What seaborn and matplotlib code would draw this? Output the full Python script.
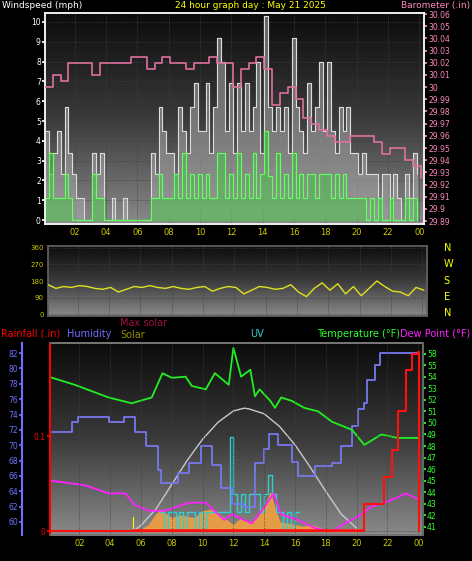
import numpy as np
import pandas as pd
import matplotlib
matplotlib.use("Agg")
import matplotlib.pyplot as plt
import seaborn as sns
from matplotlib.colors import LinearSegmentedColormap

# ---- data ----
hours_q = np.arange(0, 24, 0.25) + 0.1
gust = [4.5, 2.3, 3.4, 4.5, 2.3, 5.7, 3.4, 2.3, 1.1, 1.1, 0, 0, 3.4, 2.3, 3.4, 0,
        0, 1.1, 0, 0, 1.1, 0, 0, 0, 0, 0, 0, 3.4, 2.3, 5.7, 4.5, 3.4,
        3.4, 2.3, 5.7, 4.5, 3.4, 5.7, 6.9, 4.5, 4.5, 6.9, 3.4, 5.7, 9.2, 8.0, 4.5, 6.9,
        3.4, 6.9, 4.5, 6.9, 4.5, 5.7, 8.0, 3.4, 10.3, 5.7, 4.5, 5.7, 4.5, 5.7, 3.4, 9.2,
        5.7, 4.5, 3.4, 6.9, 4.5, 5.7, 8.0, 4.5, 8.0, 4.5, 3.4, 5.7, 4.5, 5.7, 3.4, 3.4,
        2.3, 3.4, 2.3, 2.3, 2.3, 1.1, 2.3, 2.3, 1.1, 2.3, 1.1, 0, 2.3, 1.1, 3.4, 2.3]
avg_wind = [1.1, 3.4, 1.1, 1.1, 1.1, 2.3, 1.1, 0, 0, 0, 0, 0, 2.3, 1.1, 1.1, 0,
            0, 0, 0, 0, 0, 0, 0, 0, 0, 0, 0, 1.1, 1.1, 2.3, 1.1, 1.1,
            1.1, 2.3, 1.1, 3.4, 1.1, 2.3, 1.1, 2.3, 1.1, 2.3, 1.1, 1.1, 3.4, 3.4, 1.1, 2.3,
            1.1, 3.4, 1.1, 2.3, 1.1, 3.4, 1.1, 2.3, 4.5, 2.2, 1.1, 3.4, 1.1, 2.3, 1.1, 3.4,
            1.1, 2.3, 1.1, 2.3, 2.3, 1.1, 2.3, 2.3, 2.3, 1.1, 2.3, 1.1, 2.3, 1.1, 1.1, 1.1,
            1.1, 1.1, 0, 1.1, 0, 1.1, 0, 0, 1.1, 0, 0, 0, 1.1, 0, 1.1, 0]

hours_h = np.arange(0, 24.5, 0.5) + 0.1
baro = [30.00, 30.01, 30.005, 30.02, 30.02, 30.02, 30.01, 30.02, 30.02, 30.02,
        30.02, 30.025, 30.025, 30.015, 30.02, 30.025, 30.02, 30.02, 30.015, 30.02,
        30.02, 30.025, 30.02, 30.02, 30.00, 30.015, 30.02, 30.025, 30.015, 29.985,
        29.995, 30.00, 29.99, 29.975, 29.97, 29.965, 29.96, 29.955, 29.955, 29.96,
        29.96, 29.96, 29.955, 29.945, 29.95, 29.95, 29.94, 29.935, 29.925]
wind_dir = [160, 140, 150, 145, 155, 150, 140, 135, 145, 120, 135, 150, 145, 155, 145,
            140, 150, 140, 135, 145, 150, 125, 140, 150, 145, 110, 130, 150, 145, 135,
            140, 160, 120, 95, 140, 170, 130, 165, 110, 150, 100, 140, 180, 150, 125,
            120, 100, 145, 130]

# bottom panel: hour positions and values
temp_h = [0.0, 1.7, 3.9, 5.4, 6.7, 7.4, 8.0, 8.9, 9.3, 10.2, 10.8, 11.7, 12.0, 12.5,
          13.1, 13.4, 13.7, 14.4, 14.7, 15.1, 15.8, 16.6, 17.5, 18.4, 19.7, 20.5, 21.6,
          22.7, 24.0]
temp = [54.0, 53.3, 52.2, 51.7, 52.2, 54.3, 53.9, 54.0, 53.2, 52.9, 54.3, 53.3, 56.5,
        54.0, 54.6, 52.3, 52.9, 51.9, 51.3, 52.2, 51.9, 51.3, 51.0, 50.1, 49.4, 48.1,
        49.0, 48.7, 48.7]
hum_h = [0.2, 1.5, 1.9, 3.9, 4.9, 5.6, 6.3, 7.1, 7.3, 8.4, 9.1, 9.9, 10.6, 11.2, 11.9,
         12.7, 13.4, 14.0, 14.3, 14.9, 15.8, 16.2, 17.3, 18.4, 19.0, 19.7, 20.1, 20.5,
         20.7, 21.2, 21.5, 24.0]
humidity = [71.7, 73.0, 73.7, 73.0, 73.7, 71.7, 69.9, 66.8, 65.1, 66.4, 67.7, 69.9,
            67.4, 64.4, 62.3, 61.9, 67.7, 69.5, 71.5, 70.0, 67.8, 66.0, 67.3, 67.7,
            69.9, 72.5, 74.7, 75.5, 78.5, 80.5, 82.0, 82.0]
dew_h = [0.2, 2.4, 3.9, 5.0, 5.6, 6.5, 7.6, 9.1, 10.2, 11.4, 11.9, 13.2, 14.0, 14.6,
         15.1, 16.2, 17.3, 18.4, 19.2, 20.1, 20.9, 22.2, 23.2, 24.0]
dew = [45.0, 44.6, 43.9, 43.9, 42.9, 42.4, 42.4, 43.1, 43.1, 41.6, 42.1, 41.3, 42.7,
       43.9, 42.1, 41.6, 40.9, 40.6, 41.3, 41.9, 42.7, 43.3, 43.9, 43.4]
rain_h = [0.1, 20.45, 20.5, 21.3, 21.8, 22.3, 22.7, 23.2, 23.6, 24.0, 24.02]
rain = [0, 0, 0.029, 0.029, 0.057, 0.085, 0.127, 0.17, 0.187, 0.189, 0]
maxsolar_h = [5.5, 6, 7, 8, 9, 10, 11, 12, 12.7, 13, 14, 15, 16, 17, 18, 19, 20, 20.3]
maxsolar = [0, 40, 160, 330, 500, 650, 770, 850, 870, 865, 830, 740, 610, 450, 280,
            120, 20, 0]
solar_h = [5.5, 6.0, 6.5, 7.0, 7.3, 7.6, 8.0, 8.5, 9.0, 9.5, 10.0, 10.5, 11.0, 11.5,
           12.0, 12.5, 13.0, 13.5, 14.0, 14.4, 14.7, 15.0, 15.5, 16.0, 16.5, 17.0,
           17.5, 18.0, 19.0, 20.0]
solar = [0, 10, 40, 120, 150, 120, 90, 110, 100, 90, 140, 150, 120, 80, 40, 90, 60,
         80, 160, 270, 150, 60, 50, 40, 30, 40, 25, 10, 5, 0]
uv_h = np.arange(7.25, 16.5, 0.25)
uv = [1, 0, 1, 1, 0, 1, 0, 1, 1, 0, 1, 0, 1, 1, 1, 1, 1, 1, 5, 2, 1, 2, 1, 2, 2,
      2, 1, 2, 3, 2, 1, 1, 0, 1, 0, 1, 1]

tick_hours = list(range(2, 25, 2))
tick_labels = ["%02d" % (h % 24) for h in tick_hours]
temp_ticks = list(range(41, 57))
temp_tick_labels = [str(t) for t in range(41, 56)] + ["58"]

# ---- style ----
sns.set_theme(style="dark")
plt.rcParams["font.family"] = ["DejaVu Sans"]
plt.rcParams["font.size"] = 6
YEL = "#c8c800"
bg_cmap = LinearSegmentedColormap.from_list("bg", ["#0c0c0c", "#3a3a3a", "#8a8a8a"])
grad = np.linspace(0, 1, 256).reshape(-1, 1)

fig = plt.figure(figsize=(4.72, 5.61), dpi=100, facecolor="black")


def prep(ax, bg=True):
    ax.set_facecolor("black")
    if bg:
        ax.imshow(grad, aspect="auto", cmap=bg_cmap, extent=[0, 1, 0, 1],
                  transform=ax.transAxes, zorder=0)
    ax.set_xlim(0.1, 24.3)
    ax.set_xticks(tick_hours)
    ax.set_xticklabels(tick_labels, color=YEL, fontsize=6)
    ax.grid(True, color="#404040", linestyle=":", linewidth=0.6)
    for s in ax.spines.values():
        s.set_color("#606060")
    ax.tick_params(colors=YEL, length=2, pad=1)


# ---- top: wind speed + barometer ----
ax1 = fig.add_axes([0.0953, 0.6007, 0.803, 0.376])
prep(ax1)
ax1.set_ylim(-0.2, 10.45)
ax1.set_yticks(range(0, 11))
ax1.tick_params(axis="y", colors="white", labelsize=5.5)
ax1.fill_between(hours_q, gust, step="post", color="#a8a8a8", alpha=0.55, zorder=2)
sns.lineplot(x=hours_q, y=gust, drawstyle="steps-post", color="#e0e0e0", lw=0.7,
             ax=ax1, zorder=3)
ax1.fill_between(hours_q, avg_wind, step="post", color="#50c050", alpha=0.6, zorder=4)
sns.lineplot(x=hours_q, y=avg_wind, drawstyle="steps-post", color="#66ff66", lw=0.8,
             ax=ax1, zorder=5)
ax1b = ax1.twinx()
ax1b.set_ylim(29.8876, 30.0608)
bticks = np.round(np.arange(29.89, 30.065, 0.01), 2)
ax1b.set_yticks(bticks)
ax1b.set_yticklabels(["%g" % v for v in bticks], color="#ff88bb", fontsize=5.5)
ax1b.tick_params(colors="#ff88bb", length=2, pad=1)
sns.lineplot(x=hours_h, y=baro, drawstyle="steps-post", color="#e070a0", lw=1.2,
             ax=ax1b, zorder=6)
fig.text(0.005, 0.999, "Windspeed (mph)", color="white", fontsize=6.5, va="top")
fig.text(0.53, 0.999, "24 hour graph day : May 21 2025", color="yellow", fontsize=6.5,
         va="top", ha="center")
fig.text(0.995, 0.999, "Barometer (.in)", color="#ff88bb", fontsize=6.5, va="top",
         ha="right")

# ---- middle: wind direction ----
ax2 = fig.add_axes([0.1017, 0.4367, 0.803, 0.1248])
prep(ax2)
ax2.set_xticklabels([])
ax2.tick_params(axis="x", length=0)
ax2.set_ylim(-10, 370)
ax2.set_yticks([0, 90, 180, 270, 360])
ax2.tick_params(axis="y", labelsize=5)
sns.lineplot(x=hours_h, y=wind_dir, color="#e0e020", lw=1, ax=ax2, zorder=3)
for i, lab in enumerate(["N", "W", "S", "E", "N"]):
    fig.text(0.94, 0.558 - i * 0.029, lab, color="yellow", fontsize=7, va="center")

# ---- bottom: rain, humidity, solar, uv, temperature, dew point ----
ax3 = fig.add_axes([0.106, 0.0463, 0.790, 0.342])
prep(ax3, bg=False)
ax3.set_ylim(-0.004, 0.198)
ax3.set_yticks([0, 0.1])
ax3.set_yticklabels(["0", "0.1"], color="red", fontsize=5.5)
ax3.spines["left"].set_color("red")
ax3.spines["left"].set_linewidth(1.5)
ax3.tick_params(axis="y", colors="red")

axs = ax3.twinx()
axs.imshow(grad, aspect="auto", cmap=bg_cmap, extent=[0, 1, 0, 1],
           transform=axs.transAxes, zorder=0)
axs.set_ylim(-28, 1330)
axs.set_yticks([])
axs.fill_between(solar_h, solar, color="#f0a040", alpha=0.9, zorder=2)
sns.lineplot(x=maxsolar_h, y=maxsolar, color="#c8c8c8", lw=1, ax=axs, zorder=3)
axs.plot([5.5, 5.5], [0, 100], color="yellow", lw=0.8)

axu = ax3.twinx()
axu.set_ylim(-0.2, 10)
axu.set_yticks([])
sns.lineplot(x=uv_h, y=uv, drawstyle="steps-post", color="#30d0d0", lw=1, ax=axu,
             zorder=4)

axh = ax3.twinx()
axh.spines["left"].set_position(("outward", 20))
axh.spines["left"].set_visible(True)
axh.spines["left"].set_color("#7070ff")
axh.spines["left"].set_linewidth(1.5)
axh.yaxis.set_ticks_position("left")
axh.yaxis.set_label_position("left")
axh.set_ylim(58.3, 83.3)
axh.set_yticks(range(60, 83, 2))
axh.tick_params(axis="y", colors="#7070ff", labelsize=5.5, length=2, pad=1)
sns.lineplot(x=hum_h, y=humidity, drawstyle="steps-post", color="#7878f0", lw=1.3,
             ax=axh, zorder=5)

axt = ax3.twinx()
axt.set_ylim(40.3, 56.9)
axt.set_yticks(temp_ticks)
axt.set_yticklabels(temp_tick_labels, color="#30ff30", fontsize=5.5)
axt.tick_params(axis="y", colors="#30ff30", length=2, pad=1)
axt.spines["right"].set_color("#30c030")
sns.lineplot(x=temp_h, y=temp, color="#22ee22", lw=1.3, ax=axt, zorder=6)
sns.lineplot(x=dew_h, y=dew, color="#ff22ff", lw=1.3, ax=axt, zorder=6)

for a in (axs, axu, axh, axt):
    a.grid(False)
ax3.set_zorder(axt.get_zorder() + 1)
ax3.patch.set_visible(False)
sns.lineplot(x=rain_h, y=rain, drawstyle="steps-post", color="#ff1010", lw=1.5,
             ax=ax3, zorder=7)
ax3.plot([5.5, 20.4], [0.0015, 0.0015], color="#ff2020", lw=2)

fig.text(0.002, 0.405, "Rainfall (.in)", color="red", fontsize=7, va="center")
fig.text(0.143, 0.405, "Humidity", color="#7070ff", fontsize=7, va="center")
fig.text(0.255, 0.425, "Max solar", color="#a01040", fontsize=7, va="center")
fig.text(0.255, 0.403, "Solar", color="#909000", fontsize=7, va="center")
fig.text(0.53, 0.405, "UV", color="#30d0d0", fontsize=7, va="center")
fig.text(0.672, 0.405, "Temperature (\u00b0F)", color="#30ff30", fontsize=7,
         va="center")
fig.text(0.848, 0.405, "Dew Point (\u00b0F)", color="#ff22ff", fontsize=7,
         va="center")

fig.savefig("out.png", dpi=100, facecolor="black")
